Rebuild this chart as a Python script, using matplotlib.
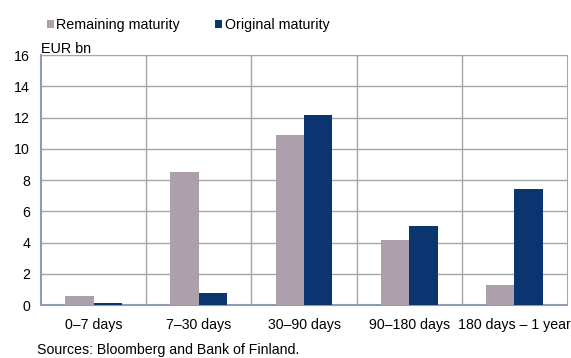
import numpy as np
import matplotlib.pyplot as plt

categories = ["0–7 days", "7–30 days", "30–90 days", "90–180 days", "180 days – 1 year"]
remaining = [0.6, 8.5, 10.9, 4.15, 1.3]
original = [0.1, 0.75, 12.15, 5.05, 7.45]

plt.rcParams['font.family'] = ['Liberation Sans', 'DejaVu Sans']

fig = plt.figure(figsize=(5.71, 3.58), dpi=100)
ax = fig.add_axes([0.072, 0.148, 0.921, 0.698])

x = np.arange(len(categories))
w = 0.27
ax.bar(x - w / 2, remaining, w, color="#ae9fad", zorder=3, label="Remaining maturity")
ax.bar(x + w / 2, original, w, color="#0a3570", zorder=3, label="Original maturity")

ax.set_xlim(-0.5, len(categories) - 0.5)
ax.set_ylim(0, 16)
ax.set_yticks(range(0, 17, 2))
ax.yaxis.grid(True, color="#a6a6a6", linewidth=1, zorder=0)
for b in np.arange(0.5, len(categories) - 0.5):
    ax.axvline(b, color="#a6a6a6", linewidth=1, zorder=0)

ax.set_xticks(x)
ax.set_xticklabels(categories, fontsize=10.2)
ax.tick_params(axis="x", length=0, pad=9)
ax.tick_params(axis="y", length=0, pad=8, labelsize=10.2)
for s in ["top", "right"]:
    ax.spines[s].set_color("#a6a6a6")
ax.spines["left"].set_color("#8c9cb4")
ax.spines["bottom"].set_color("#8c9cb4")
ax.spines["left"].set_linewidth(1.5)
ax.spines["bottom"].set_linewidth(1.5)

fig.text(0.071, 0.852, "EUR bn", fontsize=10.4)
fig.text(0.065, 0.01, "Sources: Bloomberg and Bank of Finland.", fontsize=10.2)
fig.legend(loc="upper left", bbox_to_anchor=(0.059, 0.985), ncol=2, frameon=False,
           fontsize=10.3, handlelength=0.5, handleheight=0.5, handletextpad=0.15,
           columnspacing=2.5)

fig.savefig("out.png", dpi=100)
